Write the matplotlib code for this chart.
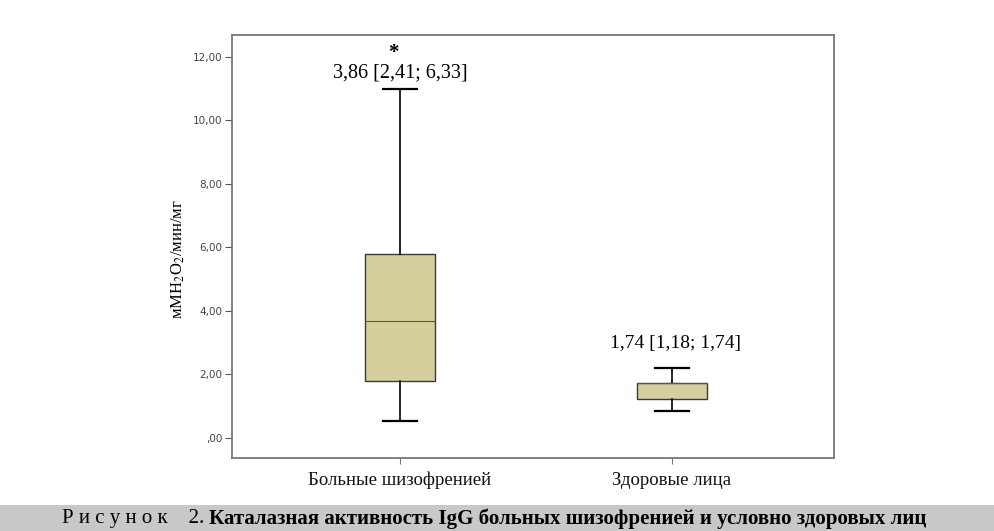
import matplotlib.pyplot as plt
from matplotlib.patches import Rectangle

plt.rcParams['mathtext.fontset'] = 'stix'

# values
groups = ['Больные шизофренией', 'Здоровые лица']
whislo = [0.54, 0.85]
q1 = [1.80, 1.23]
med = [3.69, 1.74]
q3 = [5.80, 1.73]
whishi = [11.0, 2.20]
notes = ['3,86 [2,41; 6,33]', '1,74 [1,18; 1,74]']
yticks = [0, 2, 4, 6, 8, 10, 12]
ytick_labels = [',00', '2,00', '4,00', '6,00', '8,00', '10,00', '12,00']

fig = plt.figure(figsize=(9.94, 5.31), dpi=100)
ax = fig.add_axes([0.2334, 0.1375, 0.6056, 0.7966])

stats = []
for i in range(len(groups)):
    stats.append({'whislo': whislo[i], 'q1': q1[i], 'med': med[i],
                  'q3': max(q3[i], med[i]), 'whishi': whishi[i], 'fliers': []})

ax.bxp(stats, positions=[1, 2], widths=0.257, patch_artist=True,
       showfliers=False, capwidths=0.125,
       boxprops=dict(facecolor='#d4cf9c', edgecolor='#3a3a3a', linewidth=1.0),
       medianprops=dict(color='#555555', linewidth=0.8),
       whiskerprops=dict(color='black', linewidth=1.2),
       capprops=dict(color='black', linewidth=1.6))

ax.set_xlim(0.382, 2.596)
ax.set_ylim(-0.63, 12.69)
ax.set_yticks(yticks)
ax.set_yticklabels(ytick_labels, fontsize=7.5, color='#444444',
                   family='DejaVu Sans')
ax.set_xticks([1, 2])
ax.set_xticklabels(groups, fontsize=13.5, family='Liberation Serif', color='#111111')
ax.tick_params(axis='y', direction='out', length=5, color='#555555', pad=2)
ax.tick_params(axis='x', direction='out', length=4, color='#777777', pad=6)
for s in ax.spines.values():
    s.set_color('#777777')
    s.set_linewidth(1.3)

ax.set_ylabel('мМH$_2$O$_2$/мин/мг', fontsize=12, family='Liberation Serif')
ax.yaxis.set_label_coords(-0.075, 0.47)

# annotations above the boxes
ax.text(1.0, 11.2, notes[0], ha='center', va='bottom', fontsize=14.5,
        family='Liberation Serif')
ax.text(0.975, 11.8, '*', ha='center', va='bottom', fontsize=15,
        fontweight='bold', family='Liberation Serif')
ax.text(2.015, 2.72, notes[1], ha='center', va='bottom', fontsize=14,
        family='Liberation Serif')

# caption band
fig.patches.append(Rectangle((0, 0), 1, 0.049, transform=fig.transFigure,
                             facecolor='#c8c8c8', edgecolor='none', zorder=0))
t1 = fig.text(0.062, 0.024, 'Р и с у н о к    2. ', ha='left', va='center',
              fontsize=15, family='Liberation Serif')
fig.canvas.draw()
bb = t1.get_window_extent()
x2 = bb.x1 / fig.bbox.width
fig.text(x2, 0.024, 'Каталазная активность IgG больных шизофренией и условно здоровых лиц',
         ha='left', va='center', fontsize=15, fontweight='bold',
         family='Liberation Serif')

fig.savefig('out.png', dpi=100)
